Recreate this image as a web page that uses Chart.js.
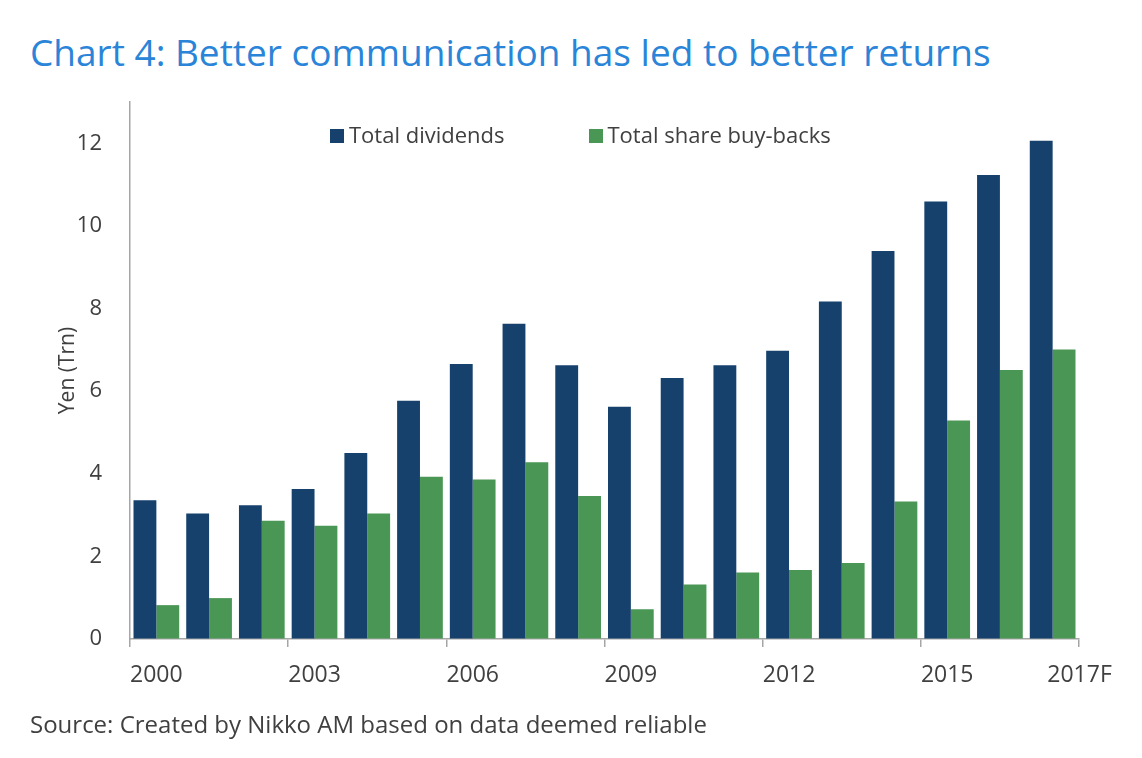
<!DOCTYPE html>
<html lang="en">
<head>
<meta charset="UTF-8">
<title>Chart 4: Better communication has led to better returns</title>
<script src="https://cdn.jsdelivr.net/npm/chart.js"></script>
<style>
    html, body { margin: 0; padding: 0; background: #fff; }
    body { width: 1142px; height: 758px; position: relative; overflow: hidden; font-family: "Open Sans", sans-serif; }
    #titulo { position: absolute; left: 30px; top: 33px; margin: 0; font-size: 37px; line-height: 1; font-weight: 400; color: #2a84d8; white-space: nowrap; }
    #lienzo { position: absolute; left: 0; top: 0; }
    #leyenda { position: absolute; left: 330px; top: 121px; display: flex; gap: 84px; font-size: 22px; line-height: 26px; color: #404040; }
    #leyenda .item { display: flex; align-items: center; }
    #leyenda .caja { width: 14px; height: 14px; margin-right: 5px; margin-top: 3px; }
    #fuente { position: absolute; left: 30px; top: 712px; margin: 0; font-size: 24px; line-height: 1; color: #404040; white-space: nowrap; }
</style>
</head>
<body>
    <h1 id="titulo">Chart 4: Better communication has led to better returns</h1>
    <canvas id="lienzo" width="1142" height="758"></canvas>
    <div id="leyenda"></div>
    <p id="fuente">Source: Created by Nikko AM based on data deemed reliable</p>

    <script>
        // datos (billones de yenes)
        const years = ['2000', '2001', '2002', '2003', '2004', '2005', '2006', '2007', '2008',
                       '2009', '2010', '2011', '2012', '2013', '2014', '2015', '2016', '2017F'];
        const dividends = [3.36, 3.04, 3.24, 3.63, 4.50, 5.77, 6.66, 7.63, 6.63,
                           5.62, 6.32, 6.63, 6.98, 8.17, 9.39, 10.59, 11.23, 12.06];
        const buybacks = [0.82, 0.99, 2.86, 2.74, 3.04, 3.93, 3.86, 4.28, 3.46,
                          0.72, 1.32, 1.61, 1.67, 1.84, 3.33, 5.29, 6.51, 7.01];
        const seriesNames = ['Total dividends', 'Total share buy-backs'];
        const seriesColors = ['#15416c', '#4a9655'];
        const yTicks = [0, 2, 4, 6, 8, 10, 12];

        const gris = '#a6a6a6';
        const texto = '#404040';

        // leyenda en html
        const leyenda = document.getElementById('leyenda');
        seriesNames.forEach((nombre, i) => {
            leyenda.insertAdjacentHTML('beforeend',
                `<div class="item"><span class="caja" style="background:${seriesColors[i]}"></span>${nombre}</div>`);
        });

        const ctx = document.getElementById('lienzo').getContext('2d');
        const grafico = new Chart(ctx, {
            type: 'bar',
            data: {
                labels: years,
                datasets: [
                    { label: seriesNames[0], data: dividends, backgroundColor: seriesColors[0] },
                    { label: seriesNames[1], data: buybacks, backgroundColor: seriesColors[1] }
                ]
            },
            options: {
                responsive: false,
                animation: false,
                events: [],
                layout: { padding: { left: 0, right: 63, top: 102, bottom: 59 } },
                datasets: { bar: { categoryPercentage: 0.867, barPercentage: 1.0, borderWidth: 0 } },
                plugins: {
                    legend: { display: false },
                    tooltip: { enabled: false }
                },
                scales: {
                    x: {
                        afterFit: (scale) => { scale.height = 60; },
                        grid: {
                            offset: true,
                            drawOnChartArea: false,
                            drawTicks: true,
                            tickLength: 8,
                            lineWidth: 1.5,
                            // marcas cada 3 anos y al final
                            color: (c) => (c.type !== 'tick' || c.index % 3 === 0) ? gris : 'rgba(0,0,0,0)'
                        },
                        border: { color: gris, width: 1.5 },
                        ticks: {
                            autoSkip: false,
                            maxRotation: 0,
                            padding: 15,
                            color: texto,
                            font: { family: 'Open Sans', size: 23 },
                            callback: function (v, i) {
                                if (i === years.length - 1) return '         ' + years[i];
                                return i % 3 === 0 ? years[i] : '';
                            }
                        }
                    },
                    y: {
                        min: 0,
                        max: 13,
                        afterFit: (scale) => { scale.width = 130; },
                        afterBuildTicks: (scale) => { scale.ticks = yTicks.map(v => ({ value: v })); },
                        grid: { drawOnChartArea: false, drawTicks: false },
                        border: { color: gris, width: 1.5 },
                        ticks: {
                            padding: 28,
                            color: texto,
                            font: { family: 'Open Sans', size: 22 }
                        },
                        title: {
                            display: true,
                            text: 'Yen (Trn)',
                            color: texto,
                            font: { family: 'Open Sans', size: 21 },
                            padding: { top: 55, bottom: 0 }
                        }
                    }
                }
            }
        });
    </script>
</body>
</html>
